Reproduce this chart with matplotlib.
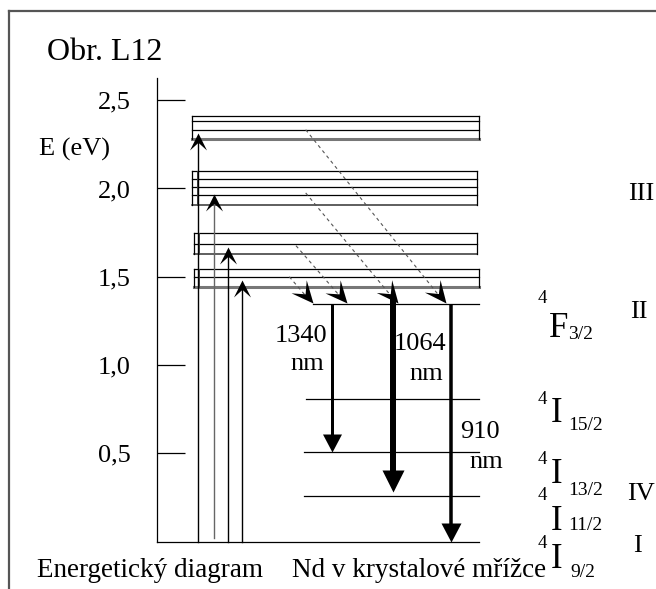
import numpy as np
import matplotlib
matplotlib.use('Agg')
import matplotlib.pyplot as plt
from matplotlib.path import Path
from matplotlib.markers import MarkerStyle
from matplotlib.transforms import Affine2D

plt.rcParams['font.family'] = ['Liberation Serif', 'DejaVu Serif']

W, H = 656, 589
PX = 176.5      # pixels per eV
Y0 = 541.5      # pixel row of E = 0

# --- data (energies in eV) ---
e_ticks = [0.5, 1.0, 1.5, 2.0, 2.5]
tick_labels = ['0,5', '1,0', '1,5', '2,0', '2,5']
band_top = [2.412, 2.097, 1.746, 1.542]
band_bottom = [2.279, 1.905, 1.629, 1.440]
band_inner = [[2.381, 2.333], [2.052, 2.007, 1.961], [1.684], [1.500]]
pump_tip = [2.314, 1.969, 1.669, 1.482]
decay_from = [2.333, 1.975, 1.676, 1.500]
nd_term = ['F', 'I', 'I', 'I', 'I']
nd_J = ['3/2', '15/2', '13/2', '11/2', '9/2']
nd_E = [1.344, 0.806, 0.505, 0.259, 0.0]
emission_nm = ['1340', '1064', '910']
emission_from = [1.344, 1.39, 1.344]
emission_to = [0.505, 0.282, 0.0]
roman = ['III', 'II', 'IV', 'I']

# --- layout (pixels) ---
band_x = [(192, 479), (192, 477), (194, 477), (194, 479)]
pump_x = [198, 214, 228, 242]
decay_x0 = [305.7, 305.7, 296, 289.3]
decay_x1 = [446, 398, 347, 313]
nd_x0 = [313, 306, 304, 304, 157]
emis_x = [332, 393, 451]
emis_lw = [3, 6, 3.5]
emis_head = [(19, 18), (22, 22), (20, 19)]


def E(y):
    return (Y0 - y) / PX


fig = plt.figure(figsize=(W / 100, H / 100), dpi=100)
ax = fig.add_axes([0, 0, 1, 1])
ax.set_xlim(0, W)
ax.set_ylim(E(H), E(0))
for s in ['top', 'right', 'bottom']:
    ax.spines[s].set_visible(False)
ax.spines['left'].set_position(('data', 157))
ax.spines['left'].set_bounds(0, E(78))
ax.spines['left'].set_linewidth(0.9)
ax.set_xticks([])
ax.set_yticks(e_ticks)
ax.set_yticklabels(tick_labels)
ax.tick_params(axis='y', direction='in', length=28 * 0.72, width=0.9,
               pad=19, labelsize=19)


def head(w, l, notch):
    verts = [(0, 0), (-w / 2, -l), (0, -l * notch), (w / 2, -l), (0, 0)]
    codes = [Path.MOVETO, Path.LINETO, Path.LINETO, Path.LINETO, Path.CLOSEPOLY]
    return Path(verts, codes)


def put_head(x, y, angle, w, l, notch=1.0, color='k'):
    w, l = w * 0.72, l * 0.72
    ms = 2 * max(l, w / 2)
    m = MarkerStyle(head(w, l, notch), transform=Affine2D().rotate_deg(angle))
    ax.plot([x], [y], marker=m, ms=ms, color=color, mew=0, ls='none', clip_on=False)


def angle_of(x0, y0, x1, y1):
    (a, b), (c, d) = ax.transData.transform([(x0, y0), (x1, y1)])
    return np.degrees(np.arctan2(-(c - a), d - b))


# frame
ax.plot([9, W], [E(11.5)] * 2, color='#555', lw=1.6, clip_on=False)
ax.plot([9, 9], [E(11.5), E(H)], color='#555', lw=1.6, clip_on=False)

# pump bands
for i, (x0, x1) in enumerate(band_x):
    ax.plot([x0, x1], [band_top[i]] * 2, color='k', lw=0.9)
    for e in band_inner[i]:
        ax.plot([x0, x1], [e, e], color='k', lw=0.9)
    thick = i in (0, 3)
    ax.plot([x0, x1], [band_bottom[i]] * 2, color='#777' if thick else '#333',
            lw=2.2 if thick else 1.1)
    ax.plot([x0, x0], [band_bottom[i], band_top[i]], color='k', lw=0.9)
    ax.plot([x1, x1], [band_bottom[i], band_top[i]], color='k', lw=0.9)
    if i > 0:
        ax.plot([x0 + 4.5] * 2, [band_bottom[i], band_top[i]], color='#444', lw=0.7)

# pump arrows
for i, x in enumerate(pump_x):
    c = '#666' if i == 1 else 'k'
    ax.plot([x, x], [0.02 if i == 1 else 0, pump_tip[i] - 8 / PX], color=c, lw=1.0)
    put_head(x, pump_tip[i], 0, 17, 17, 0.55)

# Nd levels
for i, e in enumerate(nd_E):
    ax.plot([nd_x0[i], 479], [e, e], color='k', lw=0.9)

# non-radiative decay (dashed)
for i in range(4):
    x0, e0, x1, e1 = decay_x0[i], decay_from[i], decay_x1[i], nd_E[0]
    ang = angle_of(x0, e0, x1, e1)
    f = 1 - 11 / np.hypot(x1 - x0, (e0 - e1) * PX)
    ax.plot([x0, x0 + (x1 - x0) * f], [e0, e0 + (e1 - e0) * f],
            color='#555', lw=0.8, ls=(0, (3, 3)))
    put_head(x1, e1 + 1 / PX, ang, 20, 22, 0.55)

# laser transitions
for i, x in enumerate(emis_x):
    w, l = emis_head[i]
    ax.plot([x, x], [emission_from[i], emission_to[i] + (l - 1) / PX],
            color='k', lw=emis_lw[i] * 0.72, solid_capstyle='butt')
    put_head(x, emission_to[i], 180, w, l, 1.0)


def T(x, y, s, size=19, ha='left', va='baseline'):
    ax.text(x, E(y), s, fontsize=size, ha=ha, va=va, color='k')


T(47, 60, 'Obr. L12', 23)
T(39, 156, 'E (eV)', 19)
T(37, 577, 'Energetický diagram', 19.5)
T(292, 577, 'Nd v krystalové mřížce', 19.5)

# wavelength labels
lab_pos = [(301, 342, 307, 370), (419.5, 350, 426, 380), (480, 438, 486, 468)]
for i, (xa, ya, xb, yb) in enumerate(lab_pos):
    T(xa, ya, emission_nm[i], ha='center')
    T(xb, yb, 'nm', ha='center')

# term symbols
sup_y = [299, 400, 459, 496, 543]
main_y = [337, 422, 483, 530, 568]
sub_y = [339, 430, 495, 530, 577]
for i in range(5):
    T(538, sup_y[i], '4', 13.5, va='center')
    T(549 if nd_term[i] == 'F' else 551, main_y[i], nd_term[i], 25)
    T(570 if i == 4 else 568, sub_y[i], nd_J[i], 14)

# roman numerals
roman_pos = [(641, 200), (639, 318), (641, 500), (637.5, 552)]
for s, (x, y) in zip(roman, roman_pos):
    T(x, y, s, 19, ha='center')

fig.savefig('out.png', dpi=100)
